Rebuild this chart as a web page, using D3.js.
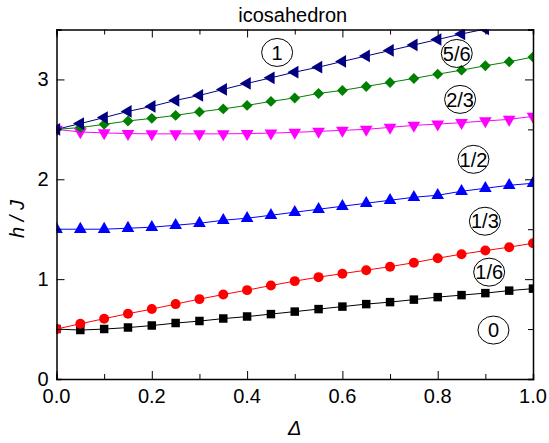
<!DOCTYPE html>
<html>
<head>
<meta charset="utf-8">
<script src="https://cdn.jsdelivr.net/npm/d3@7"></script>
<style>
  body { margin: 0; background: #fff; }
  text { font-family: "Liberation Sans", Arial, sans-serif; }
</style>
</head>
<body>
<div id="chart"></div>
<script>
// Data: Delta values and h/J for each magnetization plateau
const deltas = [0, 0.05, 0.1, 0.15, 0.2, 0.25, 0.3, 0.35, 0.4, 0.45, 0.5,
  0.55, 0.6, 0.65, 0.7, 0.75, 0.8, 0.85, 0.9, 0.95, 1.0];

const m0 = [0.5, 0.49, 0.5, 0.515, 0.535, 0.56, 0.58, 0.605, 0.625, 0.65, 0.675,
  0.7, 0.725, 0.75, 0.77, 0.795, 0.82, 0.84, 0.86, 0.885, 0.905];
const m1_6 = [0.5, 0.553, 0.604, 0.654, 0.7, 0.75, 0.8, 0.846, 0.89, 0.936, 0.98,
  1.02, 1.055, 1.09, 1.125, 1.165, 1.21, 1.25, 1.286, 1.32, 1.36];
const m1_3 = [1.5, 1.5, 1.5, 1.51, 1.52, 1.54, 1.56, 1.59, 1.61, 1.64, 1.67,
  1.7, 1.73, 1.76, 1.79, 1.82, 1.84, 1.88, 1.91, 1.94, 1.96];
const m2_3 = [2.5, 2.474, 2.464, 2.458, 2.455, 2.455, 2.455, 2.455, 2.458, 2.462, 2.47,
  2.48, 2.49, 2.5, 2.52, 2.54, 2.553, 2.567, 2.584, 2.6, 2.63];
const m5_6 = [2.5, 2.518, 2.55, 2.584, 2.61, 2.64, 2.675, 2.705, 2.74, 2.78, 2.815,
  2.86, 2.89, 2.93, 2.97, 3.01, 3.053, 3.093, 3.137, 3.177, 3.225];
const m1 = [2.5, 2.558, 2.618, 2.68, 2.73, 2.79, 2.84, 2.9, 2.96, 3.016, 3.073,
  3.123, 3.18, 3.235, 3.29, 3.345, 3.4, 3.455, 3.505, 3.56, 3.615];

const xTicks = [0, 0.2, 0.4, 0.6, 0.8, 1.0];
const yTicks = [0, 1, 2, 3];

// plateau labels, placed at (Delta, h/J)
const labelText = ["1", "5/6", "2/3", "1/2", "1/3", "1/6", "0"];
const labelX = [0.463, 0.84, 0.847, 0.875, 0.899, 0.908, 0.917];
const labelY = [3.27, 3.26, 2.8, 2.2, 1.58, 1.07, 0.49];

const series = [
  { values: m0, color: "#000000", shape: d3.symbolSquare, rotate: 0, size: 72 },
  { values: m1_6, color: "#ff0000", shape: d3.symbolCircle, rotate: 0, size: 78 },
  { values: m1_3, color: "#0000ff", shape: d3.symbolTriangle, rotate: 0, size: 70 },
  { values: m2_3, color: "#ff00ff", shape: d3.symbolTriangle, rotate: 180, size: 70 },
  { values: m5_6, color: "#008000", shape: d3.symbolSquare, rotate: 45, size: 60 },
  { values: m1, color: "#000080", shape: d3.symbolTriangle, rotate: -90, size: 70 }
];

const width = 549;
const height = 443;
const margin = { top: 29.5, right: 16, bottom: 64, left: 56.5 };
const iw = width - margin.left - margin.right;
const ih = height - margin.top - margin.bottom;

const svg = d3.select("#chart").append("svg")
  .attr("width", width)
  .attr("height", height);

const x = d3.scaleLinear().domain([0, 1]).range([margin.left, margin.left + iw]);
const y = d3.scaleLinear().domain([0, 3.5]).range([margin.top + ih, margin.top]);

// clip to the plot frame
svg.append("clipPath").attr("id", "clip")
  .append("rect")
  .attr("x", margin.left).attr("y", margin.top)
  .attr("width", iw).attr("height", ih);

const plot = svg.append("g").attr("clip-path", "url(#clip)");

const line = d3.line()
  .x((d, i) => x(deltas[i]))
  .y(d => y(d));

series.forEach(s => {
  plot.append("path")
    .attr("d", line(s.values))
    .attr("fill", "none")
    .attr("stroke", s.color)
    .attr("stroke-width", 1);

  plot.append("g")
    .selectAll("path")
    .data(s.values)
    .enter().append("path")
    .attr("d", d3.symbol().type(s.shape).size(s.size))
    .attr("transform", (d, i) => "translate(" + x(deltas[i]) + "," + y(d) + ") rotate(" + s.rotate + ")")
    .attr("fill", s.color);
});

// axes, ticks pointing inward, mirrored on top and right
const fontSize = 20;
const xAxis = svg.append("g")
  .attr("transform", "translate(0," + (margin.top + ih) + ")")
  .call(d3.axisBottom(x).tickValues(d3.range(0, 1.0001, 0.1)).tickSize(-5).tickFormat(""));
xAxis.selectAll(".tick line")
  .filter(d => Math.abs(d * 5 - Math.round(d * 5)) < 1e-6)
  .attr("y2", -8);

svg.append("g")
  .attr("transform", "translate(0," + margin.top + ")")
  .call(d3.axisTop(x).tickValues(d3.range(0, 1.0001, 0.1)).tickSize(-5).tickFormat(""))
  .selectAll(".tick line")
  .filter(d => Math.abs(d * 5 - Math.round(d * 5)) < 1e-6)
  .attr("y2", 8);

const yAxis = svg.append("g")
  .attr("transform", "translate(" + margin.left + ",0)")
  .call(d3.axisLeft(y).tickValues(d3.range(0, 3.5001, 0.5)).tickSize(-5).tickFormat(""));
yAxis.selectAll(".tick line")
  .filter(d => Number.isInteger(d))
  .attr("x2", 8);

svg.append("g")
  .attr("transform", "translate(" + (margin.left + iw) + ",0)")
  .call(d3.axisRight(y).tickValues(d3.range(0, 3.5001, 0.5)).tickSize(-5).tickFormat(""))
  .selectAll(".tick line")
  .filter(d => Number.isInteger(d))
  .attr("x2", -8);

svg.selectAll(".domain").attr("stroke", "#000").attr("stroke-width", 1.5);
svg.selectAll(".tick line").attr("stroke", "#000").attr("stroke-width", 1);

// tick labels
svg.append("g").selectAll("text")
  .data(xTicks)
  .enter().append("text")
  .attr("x", d => x(d))
  .attr("y", margin.top + ih + 24)
  .attr("text-anchor", "middle")
  .attr("font-size", fontSize)
  .text(d => d.toFixed(1));

svg.append("g").selectAll("text")
  .data(yTicks)
  .enter().append("text")
  .attr("x", margin.left - 8)
  .attr("y", d => y(d))
  .attr("dy", "0.35em")
  .attr("text-anchor", "end")
  .attr("font-size", fontSize)
  .text(d => d);

// title and axis titles
svg.append("text")
  .attr("x", margin.left + iw / 2 - 2)
  .attr("y", 22)
  .attr("text-anchor", "middle")
  .attr("font-size", fontSize)
  .text("icosahedron");

svg.append("text")
  .attr("transform", "translate(24,219) rotate(-90)")
  .attr("text-anchor", "middle")
  .attr("font-size", fontSize)
  .attr("font-style", "italic")
  .text("h / J");

svg.append("text")
  .attr("x", margin.left + iw / 2)
  .attr("y", 435)
  .attr("text-anchor", "middle")
  .attr("font-size", fontSize)
  .attr("font-style", "italic")
  .text("Δ");

// circled plateau labels
const lab = svg.append("g").selectAll("g")
  .data(labelText)
  .enter().append("g")
  .attr("transform", (d, i) => "translate(" + x(labelX[i]) + "," + y(labelY[i]) + ")");

lab.append("ellipse")
  .attr("rx", 15.5)
  .attr("ry", 14)
  .attr("fill", "none")
  .attr("stroke", "#000")
  .attr("stroke-width", 1);

lab.append("text")
  .attr("text-anchor", "middle")
  .attr("dy", "0.36em")
  .attr("font-size", fontSize)
  .text(d => d);
</script>
</body>
</html>
